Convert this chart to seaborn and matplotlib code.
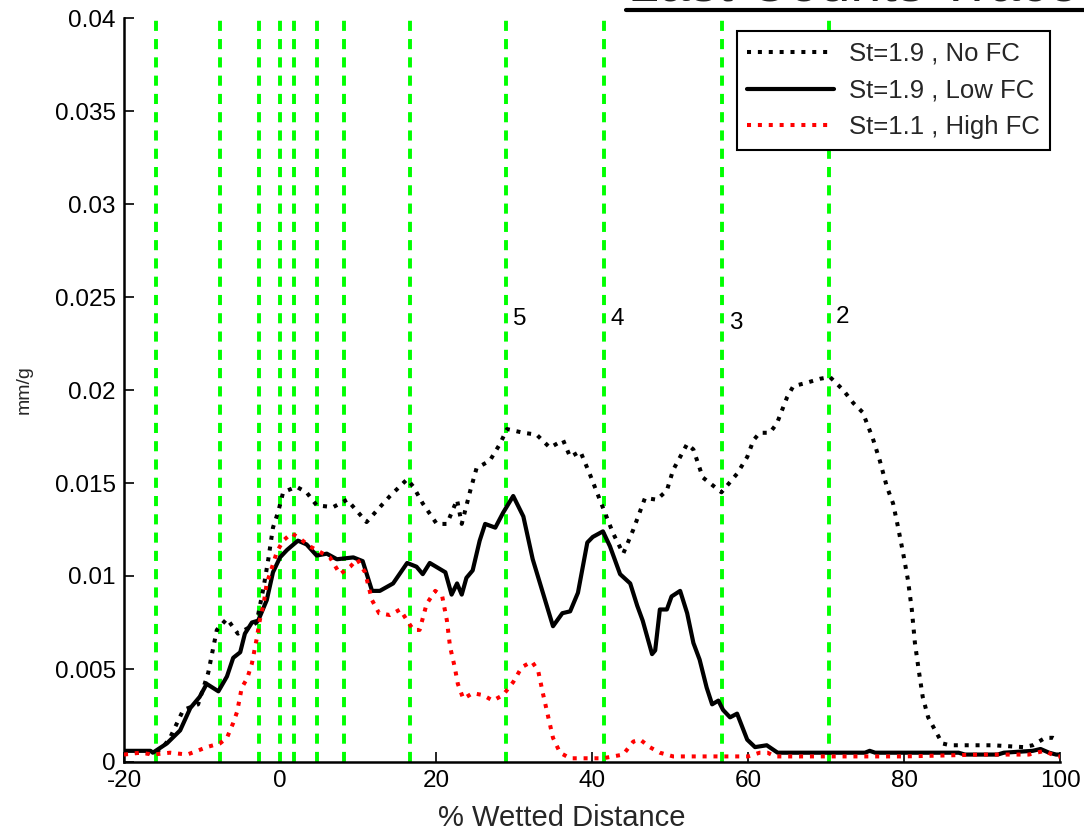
import matplotlib
matplotlib.use("Agg")
import matplotlib.pyplot as plt
from matplotlib.lines import Line2D
import numpy as np
import pandas as pd
import seaborn as sns

# ---- data -------------------------------------------------------------
no_fc_x = [-20, -17, -16, -15, -14.1, -12.4, -10.5, -9.2, -8.1, -6.8, -5.4, -4.1, -3.0,
           -2.1, -1.5, -0.9, -0.2, 0.4, 2.1, 3.4, 4.7, 6.8, 8.6, 11.1, 12.8, 14.1, 16.3,
           17.1, 18.3, 20.1, 21.4, 22.7, 23.3, 24.4, 25.2, 26.9, 28.2, 29.1, 31.2, 32.9,
           34.6, 36.3, 37.2, 38.5, 39.7, 41.0, 42.7, 44.0, 45.3, 46.8, 48.3, 49.6, 50.4,
           52.2, 53.0, 54.2, 56.6, 58.6, 59.9, 60.7, 61.5, 62.8, 63.7, 65.0, 65.8, 67.6,
           69.2, 70.5, 72.2, 73.5, 74.7, 76.0, 76.9, 77.8, 78.6, 79.2, 79.9, 80.5, 81.0,
           81.4, 81.9, 82.4, 83.1, 84.0, 84.9, 85.9, 91.4, 95.3, 96.5, 98.1, 99.1, 99.6]
no_fc_y = [0.0005, 0.0005, 0.0005, 0.0008, 0.0013, 0.0028, 0.0031, 0.0048, 0.0071, 0.0077,
           0.0069, 0.0072, 0.0075, 0.0094, 0.0109, 0.0126, 0.0135, 0.0145, 0.0148, 0.0145,
           0.0138, 0.0137, 0.0141, 0.0129, 0.0137, 0.0143, 0.0152, 0.0148, 0.0139, 0.0128,
           0.0128, 0.0141, 0.0128, 0.0146, 0.0158, 0.0162, 0.0171, 0.0179, 0.0177, 0.0176,
           0.0169, 0.0173, 0.0164, 0.0167, 0.0155, 0.0141, 0.0123, 0.0112, 0.0125, 0.0142,
           0.0141, 0.0146, 0.0157, 0.0171, 0.0168, 0.0153, 0.0145, 0.0155, 0.0164, 0.0173,
           0.0177, 0.0177, 0.0182, 0.0196, 0.0202, 0.0204, 0.0206, 0.0207, 0.0200, 0.0193,
           0.0188, 0.0174, 0.0162, 0.0148, 0.0139, 0.0127, 0.0112, 0.0098, 0.0082, 0.0064,
           0.0049, 0.0035, 0.0024, 0.0017, 0.0010, 0.0009, 0.0009, 0.0008, 0.0009, 0.0013,
           0.0013, 0.0012]

low_fc_x = [-20, -18, -16.6, -16.3, -14.5, -12.8, -11.5, -10.3, -9.4, -7.9, -6.8, -6.0, -5.1,
            -4.5, -3.6, -2.8, -1.7, -0.9, 0, 0.9, 2.3, 3.4, 4.7, 6.0, 7.3, 9.4, 10.6, 11.8,
            12.8, 14.5, 16.3, 17.5, 18.3, 19.2, 21.2, 22.0, 22.7, 23.3, 23.9, 24.7, 25.6,
            26.3, 27.6, 28.6, 29.9, 31.2, 32.4, 33.7, 35.0, 36.2, 37.2, 38.2, 39.4, 40.1,
            41.4, 42.3, 43.6, 44.9, 45.8, 46.5, 47.7, 48.1, 48.7, 49.6, 50.2, 51.3, 52.2,
            53.0, 53.8, 54.7, 55.4, 56.2, 56.8, 57.7, 58.6, 59.9, 60.9, 62.4, 63.8, 65.0,
            75.0, 75.6, 76.3, 80.0, 87.0, 87.8, 92.0, 92.8, 96.5, 97.5, 98.6, 99.5, 100]
low_fc_y = [0.0006, 0.0006, 0.0006, 0.0005, 0.0010, 0.0017, 0.0029, 0.0035, 0.0042, 0.0038,
            0.0046, 0.0056, 0.0059, 0.0069, 0.0075, 0.0076, 0.0087, 0.0102, 0.0110, 0.0114,
            0.0119, 0.0117, 0.0111, 0.0112, 0.0109, 0.0110, 0.0108, 0.0092, 0.0092, 0.0096,
            0.0107, 0.0105, 0.0101, 0.0107, 0.0102, 0.0090, 0.0096, 0.0090, 0.0099, 0.0103,
            0.0119, 0.0128, 0.0126, 0.0134, 0.0143, 0.0132, 0.0109, 0.0091, 0.0073, 0.0080,
            0.0081, 0.0091, 0.0118, 0.0121, 0.0124, 0.0116, 0.0101, 0.0096, 0.0084, 0.0076,
            0.0058, 0.0060, 0.0082, 0.0082, 0.0089, 0.0092, 0.0080, 0.0064, 0.0055, 0.0040,
            0.0031, 0.0033, 0.0028, 0.0024, 0.0026, 0.0012, 0.0008, 0.0009, 0.0005, 0.0005,
            0.0005, 0.0006, 0.0005, 0.0005, 0.0005, 0.0004, 0.0004, 0.0005, 0.0006, 0.0007,
            0.0005, 0.0004, 0.0004]

high_fc_x = [-20, -17.9, -16.3, -14.1, -11.9, -10.6, -9.4, -7.7, -6.8, -6.0, -5.5, -4.9, -4.2,
             -3.6, -3.0, -2.6, -2.1, -1.7, -1.0, -0.4, 0.4, 1.5, 2.6, 3.8, 5.1, 6.4, 7.7, 9.0,
             9.9, 10.9, 11.8, 12.7, 14.1, 15.4, 16.3, 17.1, 17.9, 18.8, 19.9, 20.8, 21.4,
             21.8, 22.4, 22.8, 23.5, 24.7, 26.0, 27.3, 28.6, 29.9, 31.0, 32.3, 33.1, 33.7,
             34.4, 35.0, 35.9, 37.2, 41.4, 44.0, 45.3, 46.2, 47.4, 48.7, 50.4, 60.0, 61.5,
             62.5, 63.5, 80.0, 90.0, 96.0, 98.0, 99.5, 100]
high_fc_y = [0.0004, 0.0005, 0.0004, 0.0005, 0.0004, 0.0006, 0.0008, 0.0010, 0.0013, 0.0021,
             0.0027, 0.0040, 0.0045, 0.0053, 0.0066, 0.0076, 0.0085, 0.0096, 0.0105, 0.0113,
             0.0119, 0.0123, 0.0120, 0.0116, 0.0113, 0.0110, 0.0101, 0.0105, 0.0109, 0.0102,
             0.0087, 0.0080, 0.0079, 0.0082, 0.0076, 0.0071, 0.0071, 0.0085, 0.0092, 0.0089,
             0.0076, 0.0062, 0.0051, 0.0042, 0.0034, 0.0037, 0.0036, 0.0033, 0.0036, 0.0043,
             0.0051, 0.0054, 0.0049, 0.0037, 0.0024, 0.0013, 0.0005, 0.0002, 0.0002, 0.0004,
             0.0011, 0.0012, 0.0008, 0.0005, 0.0003, 0.0003, 0.0005, 0.0005, 0.0003, 0.0003,
             0.0004, 0.0004, 0.0006, 0.0003, 0.0003]

series_labels = ["St=1.9 , No FC", "St=1.9 , Low FC", "St=1.1 , High FC"]

# stage boundaries (vertical dashed markers) and the numbered ones
boundary_x = [-15.9, -7.7, -2.7, 0.0, 1.8, 4.7, 8.2, 16.7, 29.0, 41.5, 56.7, 70.4]
stage_numbers = ["5", "4", "3", "2"]
stage_x = [29.0, 41.5, 56.7, 70.4]
stage_label_y = [0.0238, 0.0238, 0.0236, 0.0239]

x_ticks = [-20, 0, 20, 40, 60, 80, 100]
y_ticks = [0, 0.005, 0.01, 0.015, 0.02, 0.025, 0.03, 0.035, 0.04]
y_tick_labels = ["0", "0.005", "0.01", "0.015", "0.02", "0.025", "0.03", "0.035", "0.04"]

title_text = "Last Counts Traces"

# ---- style ------------------------------------------------------------
sns.set_style("ticks")
plt.rcParams["font.family"] = ["Liberation Sans", "DejaVu Sans"]
FS = 17.5

fig = plt.figure(figsize=(10.84, 8.31), dpi=100)
ax = fig.add_axes([124 / 1084, 1 - 762 / 831, 936 / 1084, 744 / 831])

# vertical stage markers
for bx in boundary_x:
    ax.axvline(bx, color="#00ff00", lw=2.8, linestyle=(0, (2.6, 2.1)), zorder=1)

# traces
dotted = (0, (1, 1.7))
sns.lineplot(x=no_fc_x, y=no_fc_y, ax=ax, color="black", lw=2.9, linestyle=dotted,
             estimator=None, sort=False, label=series_labels[0], zorder=3)
sns.lineplot(x=low_fc_x, y=low_fc_y, ax=ax, color="black", lw=3.0, linestyle="-",
             estimator=None, sort=False, label=series_labels[1], zorder=3)
sns.lineplot(x=high_fc_x, y=high_fc_y, ax=ax, color="red", lw=2.9, linestyle=dotted,
             estimator=None, sort=False, label=series_labels[2], zorder=3)

for s, sx, sy in zip(stage_numbers, stage_x, stage_label_y):
    ax.text(sx + 0.9, sy, s, fontsize=FS, va="center", ha="left", color="black")

# axes
ax.set_xlim(-20, 100)
ax.set_ylim(0, 0.04)
ax.set_xticks(x_ticks)
ax.set_xticklabels([str(v) for v in x_ticks])
ax.set_yticks(y_ticks)
ax.set_yticklabels(y_tick_labels)
ax.tick_params(direction="in", length=7, width=1.2, labelsize=FS, pad=6, colors="black")
for side in ("top", "right"):
    ax.spines[side].set_visible(False)
for side in ("left", "bottom"):
    ax.spines[side].set_linewidth(1.8)
    ax.spines[side].set_color("black")
ax.set_facecolor("white")

ax.set_xlabel("% Wetted Distance", fontsize=21, labelpad=9)
ax.xaxis.set_label_coords(0.468, -0.056)
ax.set_ylabel("mm/g", fontsize=14, labelpad=16)

leg = ax.legend(loc="upper right", bbox_to_anchor=(0.989, 0.982), borderaxespad=0,
                fontsize=18.5, frameon=True, fancybox=False, edgecolor="black",
                handlelength=3.4, handletextpad=0.55, labelspacing=0.5,
                borderpad=0.4, framealpha=1)
leg.get_frame().set_linewidth(1.5)

# clipped heading at the top edge, with its underline
fig.text(628 / 1084, 1 - 2 / 831, title_text, fontsize=40, color="#222222",
         va="baseline", ha="left")
fig.add_artist(Line2D([626 / 1084, 1.0], [1 - 9.5 / 831, 1 - 9.5 / 831],
                      transform=fig.transFigure, color="black", lw=3))

fig.savefig("out.png", dpi=100, facecolor="white")
